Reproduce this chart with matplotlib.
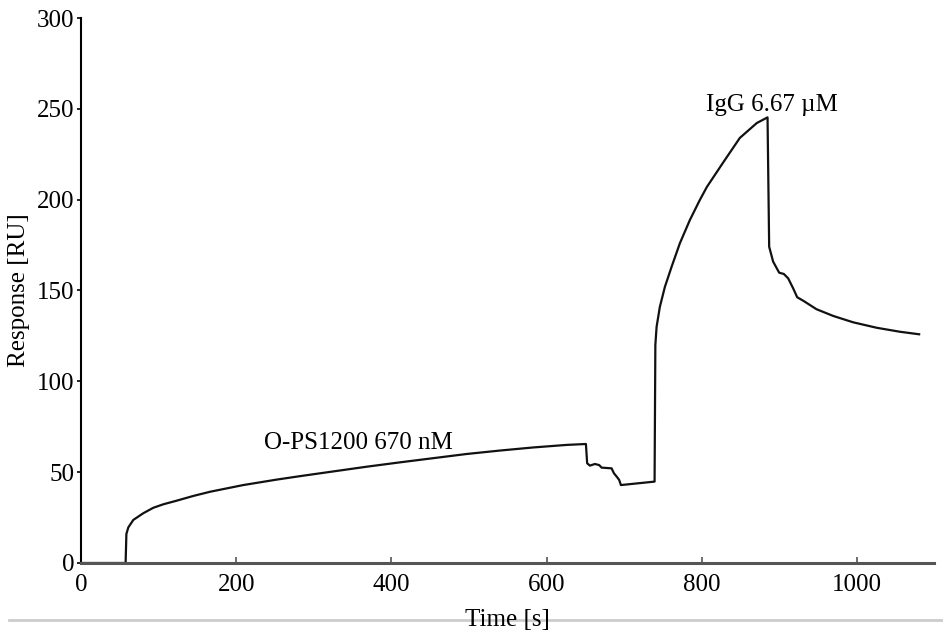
import numpy as np
import matplotlib.pyplot as plt
from matplotlib.lines import Line2D

plt.rcParams['font.family'] = ['Liberation Serif', 'DejaVu Serif']

# sensorgram
time_s = [0, 57.5, 58.5, 61, 67.4, 80.3, 93.2, 106, 123.3, 144.7, 166.2, 209.1,
          252.2, 282.2, 325.1, 368.2, 411.1, 454, 497, 540, 582.9, 625.9, 650.8,
          652.4, 655.9, 662.4, 667.9, 671, 683.9, 686.9, 691.1, 693.7, 695.9,
          739.3, 740.3, 741.9, 746.1, 752.6, 761.2, 771.9, 784.8, 797.6, 806.7,
          827.3, 849.2, 871.1, 884.9, 887, 892.1, 899.9, 905.9, 911.5, 917.9,
          923.1, 930.8, 948, 969.5, 995.2, 1025.4, 1055.4, 1080.3]
response_ru = [0, 0, 16, 19.6, 23.7, 27.4, 30.4, 32.3, 34.3, 36.9, 39.2, 42.9,
               45.9, 47.8, 50.4, 53, 55.4, 57.7, 60, 61.9, 63.6, 65, 65.5,
               54.9, 53.6, 54.5, 53.9, 52.5, 52.1, 49.4, 47.2, 45.7, 42.9,
               44.8, 120, 130, 141, 152, 163, 176, 188.8, 199.8, 207,
               220.2, 234, 242.2, 245.3, 174.1, 165.9, 159.8, 159.1, 156.7, 151.2,
               146.3, 144.4, 139.7, 136, 132.5, 129.5, 127.3, 125.9]

x_ticks = [0, 200, 400, 600, 800, 1000]
y_ticks = [0, 50, 100, 150, 200, 250, 300]

fig = plt.figure(figsize=(9.43, 6.34), dpi=100)
ax = fig.add_axes([0.0859, 0.112, 0.905, 0.8596])

ax.plot(time_s, response_ru, color='#111111', lw=1.6)

ax.text(358, 62.7, 'O-PS1200 670 nM', fontsize=18, ha='center', va='baseline')
ax.text(890.5, 248.8, 'IgG 6.67 µM', fontsize=18, ha='center', va='baseline')

ax.set_xlim(0, 1100)
ax.set_ylim(0, 300)
ax.set_xticks(x_ticks)
ax.set_yticks(y_ticks)
ax.tick_params(axis='x', direction='in', length=4, width=1.2, color='#555555',
               labelsize=18, pad=8)
ax.tick_params(axis='y', direction='out', length=3, width=1.2, labelsize=18, pad=2)

for s in ['top', 'right']:
    ax.spines[s].set_visible(False)
ax.spines['left'].set_linewidth(1.5)
ax.spines['bottom'].set_color('#555555')
ax.spines['bottom'].set_linewidth(2.2)

ax.set_ylabel('Response [RU]', fontsize=18, labelpad=5)
ax.set_xlabel('Time [s]', fontsize=18, labelpad=9)

# thin grey rule behind the x label
fig.add_artist(Line2D([0.01, 1.0], [0.022, 0.022], transform=fig.transFigure,
                      color='#cccccc', lw=2, zorder=0))

fig.savefig('out.png', dpi=100)
